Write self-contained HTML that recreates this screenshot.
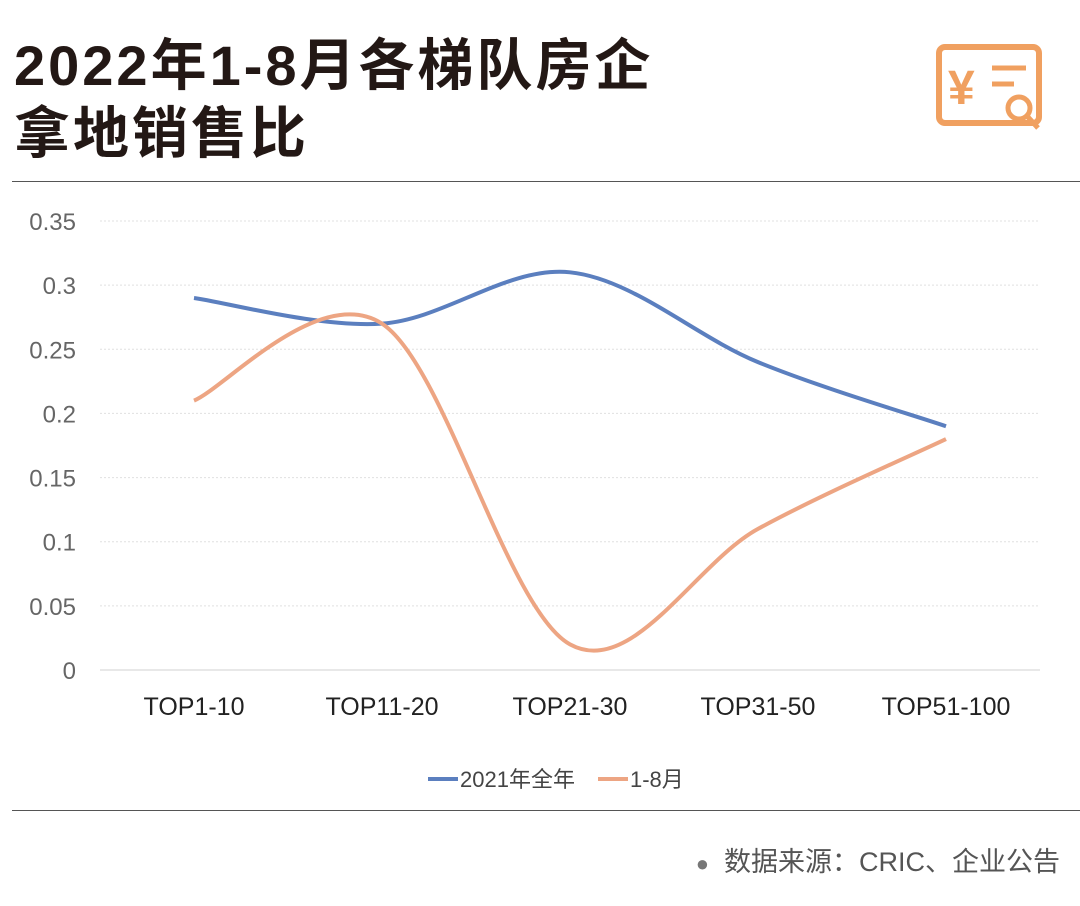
<!DOCTYPE html>
<html><head><meta charset="utf-8"><style>
body{margin:0;width:1080px;height:906px;background:#fff;font-family:"Liberation Sans","Noto Sans CJK SC",sans-serif;overflow:hidden;position:relative}
.title{position:absolute;left:14px;top:32px;font-size:56px;font-weight:bold;line-height:68px;color:#231815;letter-spacing:3px}
.rule{position:absolute;left:12px;width:1076px;height:1px;background:#555}
.src{position:absolute;right:20px;top:840px;font-size:27px;color:#555}
</style></head><body>
<div class="title">2022年1-8月各梯队房企<br>拿地销售比</div>
<svg style="position:absolute;left:934px;top:42px" width="112" height="92">
<rect x="5" y="5" width="100" height="76" rx="6" fill="none" stroke="#f0a060" stroke-width="6"/>
<text x="14" y="62" font-size="48" fill="#f0a060" font-weight="bold" font-family="Liberation Sans">¥</text>
<line x1="58" y1="26" x2="92" y2="26" stroke="#f0a060" stroke-width="5"/>
<line x1="58" y1="42" x2="80" y2="42" stroke="#f0a060" stroke-width="5"/>
<circle cx="85" cy="66" r="11" fill="#fff" stroke="#f0a060" stroke-width="5"/>
<line x1="93" y1="74" x2="104" y2="86" stroke="#f0a060" stroke-width="5"/>
</svg>
<div class="rule" style="top:181px"></div>
<div class="rule" style="top:810px"></div>
<div class="src"><span style="color:#777;font-size:22px">●</span>&nbsp; 数据来源：CRIC、企业公告</div>
<svg id="chart" style="position:absolute;left:0;top:0" width="1080" height="810"></svg>
<script>
const categories=["TOP1-10","TOP11-20","TOP21-30","TOP31-50","TOP51-100"];
const series2021=[0.29,0.27,0.31,0.24,0.19];
const series18=[0.21,0.27,0.02,0.11,0.18];
const yTicks=[0,0.05,0.1,0.15,0.2,0.25,0.3,0.35];
const yTickLabels=["0","0.05","0.1","0.15","0.2","0.25","0.3","0.35"];
const NS="http://www.w3.org/2000/svg";
const svg=document.getElementById('chart');
const x0=100,x1=1040,y0=670,y1=221;
const xs=i=>x0+(x1-x0)/categories.length*(i+0.5);
const ys=v=>y0-(v/0.35)*(y0-y1);
function mk(t,a){const e=document.createElementNS(NS,t);for(const k in a)e.setAttribute(k,a[k]);svg.appendChild(e);return e;}
yTicks.forEach((t,i)=>{
 const g=mk('line',{x1:x0,x2:x1,y1:ys(t),y2:ys(t),stroke:t===0?'#d0d0d0':'#e0e0e0','stroke-width':1,'stroke-dasharray':t===0?'':'2,2'});
 
 
 const l=mk('text',{x:76,y:ys(t)+9,'text-anchor':'end','font-size':24,fill:'#666'});
 l.textContent=yTickLabels[i];
 
 
});
categories.forEach((c,i)=>{
 const l=mk('text',{x:xs(i),y:715,'text-anchor':'middle','font-size':25,fill:'#222'});
 l.textContent=c;
 
 
});
function path(vals){
 const p=vals.map((v,i)=>[xs(i),ys(v)]);
 let d=`M${p[0][0]},${p[0][1]}`;
 for(let i=0;i<p.length-1;i++){
  const a=p[Math.max(i-1,0)],b=p[i],c=p[i+1],e=p[Math.min(i+2,p.length-1)];
  const t=0.5/3*2;
  d+=` C${b[0]+(c[0]-a[0])*t/2},${b[1]+(c[1]-a[1])*t/2} ${c[0]-(e[0]-b[0])*t/2},${c[1]-(e[1]-b[1])*t/2} ${c[0]},${c[1]}`;
 }
 return d;
}
const pa=mk('path',{d:path(series2021),fill:'none',stroke:'#5b7fbf','stroke-width':4});


const pb=mk('path',{d:path(series18),fill:'none',stroke:'#eda583','stroke-width':4});


const lg1=mk('line',{x1:428,x2:458,y1:779,y2:779,stroke:'#5b7fbf','stroke-width':4});


const lt1=mk('text',{x:460,y:787,'font-size':22,fill:'#444'});lt1.textContent='2021年全年';


const lg2=mk('line',{x1:598,x2:628,y1:779,y2:779,stroke:'#eda583','stroke-width':4});


const lt2=mk('text',{x:630,y:787,'font-size':22,fill:'#444'});lt2.textContent='1-8月';


</script>
</body></html>
